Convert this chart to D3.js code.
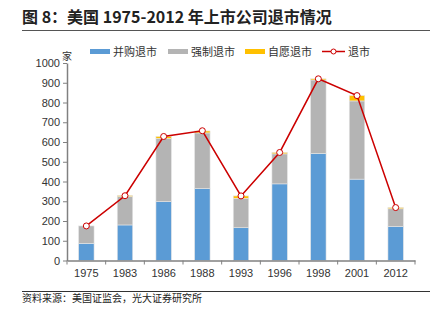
<!DOCTYPE html>
<html>
<head>
<meta charset="utf-8">
<script src="https://cdn.jsdelivr.net/npm/d3@7"></script>
<style>
  body { margin: 0; background: #fff; }
  svg { display: block; font-family: "Noto Sans CJK SC", "Noto Sans", sans-serif; }
</style>
</head>
<body>
<div id="chart"></div>
<script>
// data
const years     = ["1975", "1983", "1986", "1988", "1993", "1996", "1998", "2001", "2012"]
const merger    = [87, 180, 298, 364, 166, 388, 542, 412, 172]   // 并购退市
const forced    = [88, 144, 320, 282, 149, 152, 372, 396, 90]    // 强制退市
const voluntary = [0, 5, 10, 10, 12, 7, 6, 27, 6]                // 自愿退市
const total     = [175, 328, 628, 657, 327, 547, 920, 835, 268]  // 退市
const yTicks    = [0, 100, 200, 300, 400, 500, 600, 700, 800, 900, 1000]

const seriesNames = ["并购退市", "强制退市", "自愿退市"]
const colors = ["#5B9BD5", "#B4B4B4", "#FFC000"]
const lineColor = "#CC0000"

const W = 439, H = 322
const svg = d3.select("#chart").append("svg")
    .attr("width", W)
    .attr("height", H)

// title + rules
svg.append("text")
    .attr("x", 22).attr("y", 23)
    .attr("font-size", 16).attr("font-weight", "bold").attr("fill", "#222")
    .text("图 8：美国 1975-2012 年上市公司退市情况")
svg.append("line")
    .attr("x1", 22).attr("x2", 430).attr("y1", 30.5).attr("y2", 30.5)
    .attr("stroke", "#555").attr("stroke-width", 1)
svg.append("line")
    .attr("x1", 22).attr("x2", 430).attr("y1", 291.5).attr("y2", 291.5)
    .attr("stroke", "#333").attr("stroke-width", 1)
svg.append("text")
    .attr("x", 22).attr("y", 302)
    .attr("font-size", 10).attr("fill", "#222")
    .text("资料来源：美国证监会，光大证券研究所")

// scales
const x = d3.scaleBand()
    .domain(years)
    .range([67, 415])
    .paddingInner(0.6)
    .paddingOuter(0.3)
const y = d3.scaleLinear()
    .domain([0, 1000])
    .range([260.5, 63])

// stacked bars
const rows = years.map((yr, i) => ({ year: yr, a: merger[i], b: forced[i], c: voluntary[i] }))
const stack = d3.stack().keys(["a", "b", "c"])(rows)

svg.append("g").selectAll("g")
    .data(stack)
  .enter().append("g")
    .attr("fill", (d, i) => colors[i])
  .selectAll("rect")
    .data(d => d)
  .enter().append("rect")
    .attr("x", d => x(d.data.year))
    .attr("width", x.bandwidth())
    .attr("y", d => y(d[1]))
    .attr("height", d => y(d[0]) - y(d[1]))
    .attr("stroke", "#e6e6e6")
    .attr("stroke-width", 0.6)

// axes
const yAxis = svg.append("g")
    .attr("transform", "translate(67,0)")
    .call(d3.axisLeft(y).tickValues(yTicks).tickFormat(d3.format("d")).tickSize(4).tickSizeOuter(0))
yAxis.select(".domain").attr("stroke", "#808080").attr("stroke-width", 1.5)
yAxis.selectAll(".tick line").attr("stroke", "#808080")
yAxis.selectAll("text").attr("font-size", 11).attr("fill", "#333").attr("x", -7)

const xAxis = svg.append("g")
    .attr("transform", "translate(0,260.5)")
    .call(d3.axisBottom(x).tickSize(0).tickSizeOuter(0))
xAxis.select(".domain").attr("stroke", "#808080").attr("stroke-width", 1.5)
xAxis.selectAll("text").attr("font-size", 11).attr("fill", "#333").attr("dy", "1.2em")

// tick marks on category boundaries
svg.append("g").selectAll("line")
    .data(d3.range(years.length + 1))
  .enter().append("line")
    .attr("x1", i => 67 + i * (415 - 67) / years.length)
    .attr("x2", i => 67 + i * (415 - 67) / years.length)
    .attr("y1", 260.5).attr("y2", 264.5)
    .attr("stroke", "#808080")

svg.append("text")
    .attr("x", 62).attr("y", 60)
    .attr("font-size", 10).attr("fill", "#333")
    .text("家")

// total line
const cx = d => x(d) + x.bandwidth() / 2
const line = d3.line()
    .x((d, i) => cx(years[i]))
    .y(d => y(d))
svg.append("path")
    .attr("d", line(total))
    .attr("fill", "none")
    .attr("stroke", lineColor)
    .attr("stroke-width", 1.5)
svg.append("g").selectAll("circle")
    .data(total)
  .enter().append("circle")
    .attr("cx", (d, i) => cx(years[i]))
    .attr("cy", d => y(d))
    .attr("r", 3)
    .attr("fill", "#fff")
    .attr("stroke", lineColor)
    .attr("stroke-width", 1)

// legend
const legend = svg.append("g").attr("font-size", 11).attr("fill", "#333")
const legX = [90, 168, 245]
seriesNames.forEach((name, i) => {
  legend.append("rect")
      .attr("x", legX[i]).attr("y", 49)
      .attr("width", 20).attr("height", 5)
      .attr("fill", colors[i])
  legend.append("text")
      .attr("x", legX[i] + 23).attr("y", 55.5)
      .text(name)
})
legend.append("line")
    .attr("x1", 322).attr("x2", 345).attr("y1", 51.5).attr("y2", 51.5)
    .attr("stroke", lineColor).attr("stroke-width", 1.5)
legend.append("circle")
    .attr("cx", 333.5).attr("cy", 51.5).attr("r", 2.5)
    .attr("fill", "#fff").attr("stroke", lineColor)
legend.append("text")
    .attr("x", 348).attr("y", 55.5)
    .text("退市")
</script>
</body>
</html>
